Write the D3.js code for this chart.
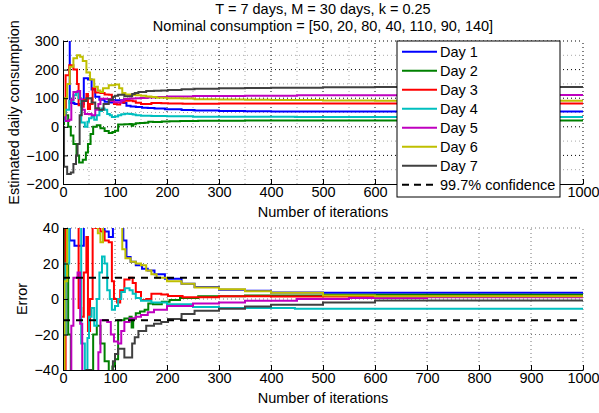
<!DOCTYPE html>
<html>
<head>
<meta charset="utf-8">
<script src="https://cdn.jsdelivr.net/npm/d3@7"></script>
<style>
body { margin: 0; background: #fff; }
text { font-family: "Liberation Sans", Arial, Helvetica, sans-serif; font-size: 14.5px; fill: #000; }
</style>
</head>
<body>
<svg id="chart" width="599" height="413"></svg>
<script>
const dayNames = ["Day 1", "Day 2", "Day 3", "Day 4", "Day 5", "Day 6", "Day 7"];
const nominal = [50, 20, 80, 40, 110, 90, 140];
const dayColors = ["#0000ff", "#008000", "#ff0000", "#00bfbf", "#bf00bf", "#bfbf00", "#404040"];

// estimated consumption per day, [iteration, value] at each step
const day1 = [[0,420],[13,83],[22,80],[40,170],[48,165],[55,130],[62,105],[70,95],[80,88],[88,85],[96,93],[116,83],[122,73.6],[130,71],[140,69],[152,67],[163,66],[176,64],[196,61.4],[228,58.6],[253,56.7],[300,55.2],[350,54.6],[400,53.7],[500,53.5],[1000,53.5]];
const day2 = [[0,10],[2,100],[5,40],[10,0],[15,-30],[20,-60],[26,-100],[31,-125],[38,-115],[44,-90],[48,-60],[53,-25],[58,0],[65,5],[72,-5],[80,-15],[88,-22],[95,-18],[100,-14],[106,8],[118,9],[128,10],[132,4],[135,9],[140,12],[148,13],[157,14],[164,17.5],[173,17],[190,18.5],[205,19.5],[225,20.5],[260,21.5],[350,22],[500,22.4],[1000,22.4]];
const day3 = [[0,40],[5,180],[12,215],[20,200],[27,150],[30,75],[35,70],[40,95],[45,115],[48,62],[52,80],[57,135],[62,120],[72,118],[80,113],[88,112],[94,90],[98,80],[104,78],[110,85],[118,91],[128,92],[134,89],[140,84],[150,79.5],[160,80],[170,83],[189,82.5],[202,81.7],[230,81],[300,81.5],[400,81.4],[1000,81.4]];
const day4 = [[0,20],[5,60],[12,90],[20,110],[25,120],[30,100],[35,15],[42,0],[47,18],[50,30],[55,35],[60,25],[65,40],[70,55],[75,64],[80,60],[85,45],[90,40],[94,34],[100,36],[106,40],[112,44],[119,46],[128,45],[134,43],[140,40.5],[150,39],[170,38],[200,37],[250,35.5],[300,35],[446,34.5],[1000,34.5]];
const day5 = [[0,40],[5,20],[12,25],[16,95],[20,122],[28,125],[33,96],[37,60],[42,45],[55,40],[62,60],[68,80],[72,98],[85,97],[92,90],[98,86],[106,85],[112,92],[118,97],[128,99],[140,100],[150,101],[163,102.5],[175,104],[200,106],[250,107.5],[300,108],[350,109],[450,110],[550,110.5],[700,111],[1000,111]];
const day6 = [[0,40],[3,100],[8,150],[13,210],[20,240],[27,250],[33,245],[38,230],[45,190],[52,165],[60,140],[67,127],[72,122],[77,135],[88,145],[100,148],[108,135],[114,118],[120,113],[130,111],[140,110],[150,109],[160,106],[170,104],[180,102],[200,100],[228,98.6],[253,96.5],[300,95.5],[350,94.3],[400,93.5],[500,92],[600,91.5],[1000,91.5]];
const day7 = [[0,0],[2,-140],[8,-165],[15,-160],[20,-130],[25,-100],[28,-60],[32,40],[36,90],[45,100],[55,85],[62,65],[70,60],[78,80],[88,95],[96,105],[100,109],[106,112],[118,107],[133,115],[138,118.5],[145,122],[160,125],[175,126],[189,127],[202,128.8],[228,131.6],[253,133.4],[300,134.5],[350,135.8],[400,136.7],[500,138],[600,139.2],[1000,139.5]];
const estimates = [day1, day2, day3, day4, day5, day6, day7];

const confidence = 12; // 99.7% band on the error
const xTicks = [0, 100, 200, 300, 400, 500, 600, 700, 800, 900, 1000];
const xMinor = [50, 150, 250, 350, 450, 550, 650, 750, 850, 950];
const topYTicks = [-200, -100, 0, 100, 200, 300];
const topYMinor = [-150, -50, 50, 150, 250];
const errYTicks = [-40, -20, 0, 20, 40];

const svg = d3.select("#chart");

const x = d3.scaleLinear().domain([0, 1000]).range([63, 583]);
const yTop = d3.scaleLinear().domain([-200, 300]).range([184, 41]);
const yErr = d3.scaleLinear().domain([-40, 40]).range([370, 228]);
const fmt = d3.format("d");

function grid(g, y, xs, ys, color) {
  g.selectAll(null).data(xs.filter(d => d > 0)).join("line")
    .attr("x1", d => x(d)).attr("x2", d => x(d))
    .attr("y1", y.range()[0]).attr("y2", y.range()[1])
    .attr("stroke", color).attr("stroke-dasharray", "1,3");
  g.selectAll(null).data(ys.filter(d => d > y.domain()[0])).join("line")
    .attr("y1", d => y(d)).attr("y2", d => y(d))
    .attr("x1", x.range()[0]).attr("x2", x.range()[1])
    .attr("stroke", color).attr("stroke-dasharray", "1,3");
}

function axes(g, y, yTicks) {
  g.append("g")
    .attr("transform", `translate(0,${y.range()[0]})`)
    .call(d3.axisBottom(x).tickValues(xTicks).tickFormat(fmt).tickSizeInner(-5).tickSizeOuter(0).tickPadding(3))
    .call(a => a.selectAll("text").style("font-size", "14.5px"));
  g.append("g")
    .attr("transform", `translate(${x.range()[0]},0)`)
    .call(d3.axisLeft(y).tickValues(yTicks).tickSizeInner(-5).tickSizeOuter(0).tickPadding(4))
    .call(a => a.selectAll("text").style("font-size", "14.5px"));
  g.selectAll(".domain, .tick line").attr("stroke", "#000");
}

function clip(id, y) {
  svg.append("clipPath").attr("id", id).append("rect")
    .attr("x", x.range()[0]).attr("y", y.range()[1])
    .attr("width", x.range()[1] - x.range()[0])
    .attr("height", y.range()[0] - y.range()[1]);
}
clip("clipTop", yTop);
clip("clipErr", yErr);

// ---- top: estimates ----
const gTop = svg.append("g");
grid(gTop, yTop, xMinor, topYMinor, "#a8a8a8");
grid(gTop, yTop, xTicks, topYTicks, "#000");

const lineTop = d3.line().x(d => x(d[0])).y(d => yTop(d[1])).curve(d3.curveStepAfter);
gTop.append("g").attr("clip-path", "url(#clipTop)")
  .selectAll("path").data(estimates).join("path")
  .attr("d", lineTop)
  .attr("fill", "none")
  .attr("stroke", (d, i) => dayColors[i])
  .attr("stroke-width", 2);
axes(gTop, yTop, topYTicks);

// ---- bottom: error ----
const gErr = svg.append("g");
grid(gErr, yErr, xTicks, errYTicks, "#777");

const errors = estimates.map((s, i) => s.map(d => [d[0], d[1] - nominal[i]]));
const lineErr = d3.line().x(d => x(d[0])).y(d => yErr(d[1])).curve(d3.curveStepAfter);
const plotErr = gErr.append("g").attr("clip-path", "url(#clipErr)");
plotErr.selectAll("path").data(errors).join("path")
  .attr("d", lineErr)
  .attr("fill", "none")
  .attr("stroke", (d, i) => dayColors[i])
  .attr("stroke-width", 2);
plotErr.selectAll("line.conf").data([confidence, -confidence]).join("line")
  .attr("class", "conf")
  .attr("x1", x(0)).attr("x2", x(1000))
  .attr("y1", d => yErr(d)).attr("y2", d => yErr(d))
  .attr("stroke", "#000").attr("stroke-width", 2).attr("stroke-dasharray", "7,6");
axes(gErr, yErr, errYTicks);

// ---- titles and labels ----
svg.append("text").attr("x", 323).attr("y", 14).attr("text-anchor", "middle")
  .text("T = 7 days, M = 30 days, k = 0.25");
svg.append("text").attr("x", 323).attr("y", 31).attr("text-anchor", "middle")
  .text("Nominal consumption = [50, 20, 80, 40, 110, 90, 140]");
svg.append("text").attr("x", 323).attr("y", 217).attr("text-anchor", "middle")
  .text("Number of iterations");
svg.append("text").attr("x", 323).attr("y", 403).attr("text-anchor", "middle")
  .text("Number of iterations");
svg.append("text").attr("transform", "translate(18.5,112.5) rotate(-90)").attr("text-anchor", "middle")
  .text("Estimated daily consumption");
svg.append("text").attr("transform", "translate(26.5,299) rotate(-90)").attr("text-anchor", "middle")
  .text("Error");

// ---- legend ----
const legendItems = dayNames.map((n, i) => ({ name: n, color: dayColors[i], dash: null }))
  .concat([{ name: "99.7% confidence", color: "#000", dash: "7,5" }]);
const legend = svg.append("g");
legend.append("rect")
  .attr("x", 397).attr("y", 41).attr("width", 163).attr("height", 156)
  .attr("fill", "#fff").attr("stroke", "#000").attr("stroke-width", 1);
const item = legend.selectAll("g.item").data(legendItems).join("g")
  .attr("class", "item")
  .attr("transform", (d, i) => `translate(0,${51.7 + i * 19})`);
item.append("line")
  .attr("x1", 402).attr("x2", 437)
  .attr("stroke", d => d.color).attr("stroke-width", 2)
  .attr("stroke-dasharray", d => d.dash);
item.append("text").attr("x", 440).attr("y", 5.5).text(d => d.name);
</script>
</body>
</html>
